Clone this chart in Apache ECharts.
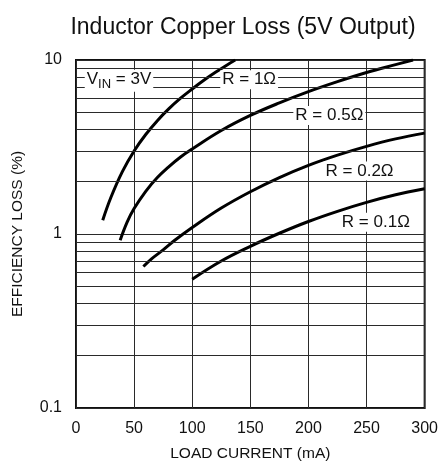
<!DOCTYPE html>
<html><head><meta charset="utf-8">
<script src="https://cdn.jsdelivr.net/npm/echarts@6/dist/echarts.min.js"></script>
<style>html,body{margin:0;padding:0;background:#fff}#c{width:441px;height:468px}</style>
</head><body><div id="c"></div>
<script>
// ---- data ----
const xTicks = [0, 50, 100, 150, 200, 250, 300];
const yTicks = [0.1, 1, 10];
const yMinorTicks = [0.2, 0.3, 0.4, 0.5, 0.6, 0.7, 0.8, 0.9, 2, 3, 4, 5, 6, 7, 8, 9];
const seriesNames = ['R = 1Ω', 'R = 0.5Ω', 'R = 0.2Ω', 'R = 0.1Ω'];
const r1x   = [23, 30, 40, 50, 60, 70, 80, 90, 100, 110, 120, 130, 137];
const r1y   = [1.2, 1.62, 2.29, 3.0, 3.73, 4.48, 5.25, 6.03, 6.81, 7.64, 8.49, 9.37, 10];
const r05x  = [38, 44, 50, 60, 70, 80, 90, 100, 125, 150, 175, 200, 225, 250, 275, 290];
const r05y  = [0.92, 1.17, 1.4, 1.76, 2.11, 2.44, 2.77, 3.08, 3.93, 4.8, 5.67, 6.58, 7.51, 8.47, 9.41, 10];
const r02x  = [58, 65, 75, 85, 100, 125, 150, 175, 200, 225, 250, 275, 300];
const r02y  = [0.65, 0.72, 0.81, 0.92, 1.09, 1.41, 1.75, 2.11, 2.48, 2.84, 3.19, 3.52, 3.8];
const r01x  = [100, 125, 150, 175, 200, 225, 250, 275, 300];
const r01y  = [0.55, 0.7, 0.85, 1.01, 1.18, 1.35, 1.52, 1.68, 1.82];
const titleText = 'Inductor Copper Loss (5V Output)';
const xName = 'LOAD CURRENT (mA)';
const yName = 'EFFICIENCY LOSS (%)';
// annotation anchors (data coords)
const annoText = ['{a|V}{s|IN}{a| = 3V}', 'R = 1Ω', 'R = 0.5Ω', 'R = 0.2Ω', 'R = 0.1Ω'];
const annoX = [37, 149, 218, 244, 258];
const annoY = [7.6, 7.7, 4.8, 2.3, 1.17];

const FONT = "'Liberation Sans',Arial,sans-serif";
const zip = (xs, ys) => xs.map((x, i) => [x, ys[i]]);
const curves = [zip(r1x, r1y), zip(r05x, r05y), zip(r02x, r02y), zip(r01x, r01y)];

const chart = echarts.init(document.getElementById('c'), null, {renderer: 'canvas'});
const gridColor = '#2a2a2a';
const option = {
  backgroundColor: '#fff',
  animation: false,
  title: {
    text: titleText, left: 238, top: 11, textAlign: 'center',
    textStyle: {fontFamily: FONT, fontSize: 23, fontWeight: 'normal', color: '#111'}
  },
  grid: {left: 76, right: 13, top: 60, bottom: 60, show: true, borderColor: '#111', borderWidth: 2, backgroundColor: 'transparent'},
  xAxis: {
    type: 'value', min: 0, max: 300, interval: 50,
    name: xName, nameLocation: 'middle', nameGap: 38,
    nameTextStyle: {fontFamily: FONT, fontSize: 15.5, color: '#111'},
    axisLine: {show: false}, axisTick: {show: false},
    axisLabel: {fontFamily: FONT, fontSize: 16, color: '#111', margin: 13,
      formatter: v => xTicks.includes(v) ? String(v) : ''},
    splitLine: {show: true, lineStyle: {color: gridColor, width: 1}}
  },
  yAxis: {
    type: 'log', logBase: 10, min: 0.1, max: 10,
    name: yName, nameLocation: 'middle', nameGap: 50, nameRotate: 90,
    nameTextStyle: {fontFamily: FONT, fontSize: 15.5, color: '#111'},
    axisLine: {show: false}, axisTick: {show: false},
    axisLabel: {fontFamily: FONT, fontSize: 16, color: '#111', margin: 14,
      formatter: v => { const t = yTicks.find(k => Math.abs(k - v) < 1e-9); return t === undefined ? '' : String(t); }},
    splitLine: {show: true, lineStyle: {color: gridColor, width: 1}}
  },
  series: [
    {
      type: 'line', data: [], z: 1, silent: true,
      markLine: {
        silent: true, symbol: ['none', 'none'], animation: false,
        label: {show: false},
        lineStyle: {color: gridColor, width: 1, type: 'solid'},
        data: yMinorTicks.map(v => ({yAxis: v}))
      }
    },
    ...curves.map((d, i) => ({
      name: seriesNames[i], type: 'line', data: d, smooth: 0.4, showSymbol: false, z: 3,
      lineStyle: {color: '#000', width: 3}, silent: true
    })),
    {
      type: 'scatter', data: [], z: 2, silent: true,
      markPoint: {
        symbol: 'rect', symbolSize: 1, itemStyle: {color: 'rgba(0,0,0,0)'}, silent: true,
        label: {
          show: true, position: 'inside', color: '#111', fontFamily: FONT, fontSize: 17,
          backgroundColor: '#fff', padding: [1, 2, 1, 2],
          rich: {
            a: {fontFamily: FONT, fontSize: 17, color: '#111', lineHeight: 20, verticalAlign: 'top'},
            s: {fontFamily: FONT, fontSize: 13, color: '#111', lineHeight: 16, verticalAlign: 'top', padding: [7, 0, 0, 0]}
          }
        },
        data: annoText.map((t, i) => ({coord: [annoX[i], annoY[i]], value: t, label: {formatter: t}}))
      }
    }
  ]
};
chart.setOption(option);
</script>
</body></html>
